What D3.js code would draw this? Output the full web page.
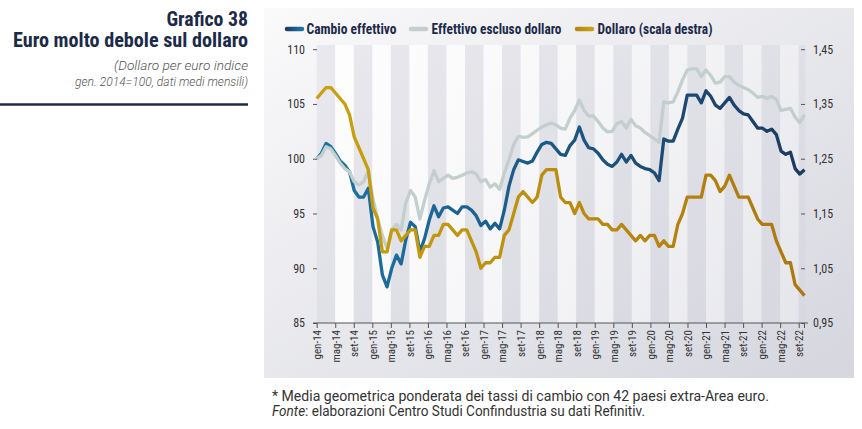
<!DOCTYPE html>
<html>
<head>
<meta charset="utf-8">
<script src="https://cdn.jsdelivr.net/npm/d3@7"></script>
<style>
  body { margin: 0; background: #fff; }
  svg { display: block; }
</style>
</head>
<body>
<div id="chart"></div>
<script>
// monthly data, gen-14 .. set-22
var cambioEffettivo = [100.0,100.5,101.4,101.1,100.5,99.8,99.4,98.8,97.1,96.5,
  96.5,97.3,93.8,92.4,89.4,88.3,90.0,91.2,90.4,92.6,
  94.2,93.8,91.5,92.7,94.4,95.7,94.7,95.5,95.6,95.3,
  95.0,95.6,95.6,95.3,94.8,93.9,94.3,93.6,94.1,93.6,
  95.3,97.5,99.0,99.9,99.75,99.6,99.8,100.6,101.3,101.5,
  101.4,100.9,100.4,100.3,101.2,101.7,102.9,101.7,101.0,100.9,
  100.5,99.9,99.5,99.3,99.7,100.4,99.7,100.3,99.6,99.3,
  99.1,99.0,98.7,98.0,101.8,101.6,101.6,102.7,103.7,105.8,
  105.8,105.8,105.1,106.2,105.7,104.9,104.6,105.1,105.6,104.9,
  104.4,104.1,104.0,103.4,102.8,102.8,102.5,102.7,102.2,100.7,
  100.4,100.6,99.1,98.6,99.0];

var effettivoEsclusoDollaro = [100.0,100.3,101.1,100.9,100.3,99.6,99.1,98.8,97.9,97.6,
  97.9,98.9,96.3,94.5,93.0,91.8,93.5,94.0,93.5,96.0,
  97.1,96.5,94.5,96.2,97.7,98.9,97.9,98.2,98.5,98.2,
  98.3,98.5,98.7,98.8,98.6,97.9,98.1,97.4,97.7,97.2,
  98.7,99.9,101.3,102.05,101.95,102.0,102.3,102.6,102.9,103.1,
  103.25,103.1,102.8,102.7,103.7,104.4,105.35,104.4,103.9,103.9,
  103.4,102.8,102.45,102.5,103.2,103.4,102.8,103.6,103.0,102.8,
  102.4,102.1,101.8,101.5,105.2,105.1,105.2,106.1,107.2,108.1,
  108.2,108.2,107.5,108.1,107.6,106.9,107.0,107.5,107.5,107.0,
  106.7,106.5,106.3,106.0,105.6,105.7,105.5,105.7,105.4,104.4,
  104.5,104.6,103.8,103.3,104.0];

// dollari per euro (scala destra)
var dollaro = [1.36,1.37,1.38,1.38,1.37,1.36,1.35,1.33,1.29,1.27,
  1.25,1.23,1.16,1.14,1.08,1.08,1.12,1.12,1.10,1.11,
  1.12,1.12,1.07,1.09,1.09,1.11,1.11,1.13,1.13,1.12,
  1.11,1.12,1.12,1.10,1.08,1.05,1.06,1.06,1.07,1.07,
  1.11,1.12,1.15,1.18,1.19,1.18,1.17,1.18,1.22,1.23,
  1.23,1.23,1.18,1.17,1.17,1.15,1.17,1.15,1.14,1.14,
  1.14,1.13,1.13,1.12,1.12,1.13,1.12,1.11,1.10,1.11,
  1.10,1.11,1.11,1.09,1.10,1.09,1.09,1.13,1.15,1.18,
  1.18,1.18,1.18,1.22,1.22,1.21,1.19,1.20,1.22,1.20,
  1.18,1.18,1.18,1.16,1.14,1.13,1.13,1.13,1.10,1.08,
  1.06,1.06,1.02,1.01,1.00];

var tickLabels = ["gen-14","mag-14","set-14","gen-15","mag-15","set-15","gen-16","mag-16","set-16",
  "gen-17","mag-17","set-17","gen-18","mag-18","set-18","gen-19","mag-19","set-19",
  "gen-20","mag-20","set-20","gen-21","mag-21","set-21","gen-22","mag-22","set-22"];

var leftTicks = [85, 90, 95, 100, 105, 110];
var rightTicks = [0.95, 1.05, 1.15, 1.25, 1.35, 1.45];

var svgWidth = 862;
var svgHeight = 429;

var condensed = "'Roboto Condensed','Liberation Sans Narrow','DejaVu Sans Condensed','Arial Narrow',sans-serif";
var navy = "#1c2a4a";

var svg = d3.select("#chart")
  .append("svg")
  .attr("width", svgWidth)
  .attr("height", svgHeight);

var defs = svg.append("defs");

// panel gradient
var pg = defs.append("linearGradient").attr("id", "panelGrad")
  .attr("x1", 0).attr("y1", 0).attr("x2", 1).attr("y2", 1);
pg.append("stop").attr("offset", "0%").attr("stop-color", "#fafafb");
pg.append("stop").attr("offset", "100%").attr("stop-color", "#d5d6de");

var wg = defs.append("linearGradient").attr("id", "whiteBand")
  .attr("gradientUnits", "userSpaceOnUse")
  .attr("x1", 316).attr("x2", 806).attr("y1", 0).attr("y2", 0);
wg.append("stop").attr("offset", "0%").attr("stop-color", "#fff").attr("stop-opacity", 0.85);
wg.append("stop").attr("offset", "100%").attr("stop-color", "#fff").attr("stop-opacity", 0.3);

function lineGrad(id, c1, c2, x1, x2) {
  var g = defs.append("linearGradient").attr("id", id)
    .attr("gradientUnits", "userSpaceOnUse")
    .attr("x1", x1).attr("x2", x2).attr("y1", 0).attr("y2", 0);
  g.append("stop").attr("offset", "0%").attr("stop-color", c1);
  g.append("stop").attr("offset", "100%").attr("stop-color", c2);
}
lineGrad("blueGrad", "#1b74a6", "#1c3a60", 316, 806);
lineGrad("goldGrad", "#c9a10e", "#ad770f", 316, 806);
lineGrad("blueLeg", "#1b3a62", "#1f77ad", 285, 303);
lineGrad("goldLeg", "#b5840f", "#c9a318", 575, 593);

svg.append("rect")
  .attr("x", 264).attr("y", 8)
  .attr("width", 590).attr("height", 370)
  .attr("fill", "url(#panelGrad)");

// scales
var x = d3.scaleLinear().domain([0, dollaro.length - 1]).range([316.7, 804.5]);
var xAxisScale = d3.scalePoint().domain(tickLabels).range([316.7, 798.7]);
var yLeft = d3.scaleLinear().domain([85, 110]).range([323, 49.2]);
var yRight = d3.scaleLinear().domain([0.95, 1.45]).range([323, 49.2]);

// alternating bands
var bandEdges = tickLabels.map(function(t) { return xAxisScale(t); });
bandEdges.push(x(dollaro.length - 1) + 1);
var bands = d3.range(bandEdges.length - 1);
svg.append("g").selectAll("rect")
  .data(bands)
  .enter()
  .append("rect")
  .attr("x", function(i) { return bandEdges[i]; })
  .attr("y", 45)
  .attr("width", function(i) { return bandEdges[i + 1] - bandEdges[i]; })
  .attr("height", 323 - 45)
  .attr("fill", function(i) { return i % 2 === 0 ? "#d2d2de" : "url(#whiteBand)"; })
  .attr("fill-opacity", function(i) { return i % 2 === 0 ? 0.38 : 1; });

// axes
var leftAxis = d3.axisLeft(yLeft).tickValues(leftTicks).tickSize(4).tickPadding(8);
var rightAxis = d3.axisRight(yRight).tickValues(rightTicks).tickSize(4).tickPadding(8)
  .tickFormat(function(d) { return d3.format(".2f")(d).replace(".", ","); });
var bottomAxis = d3.axisBottom(xAxisScale).tickSize(5).tickPadding(3);

var gl = svg.append("g").attr("transform", "translate(317,0)").call(leftAxis);
var gr = svg.append("g").attr("transform", "translate(801,0)").call(rightAxis);
var gb = svg.append("g").attr("transform", "translate(0,323)").call(bottomAxis);

[gl, gr, gb].forEach(function(g) {
  g.select(".domain").remove();
  g.selectAll(".tick line").attr("stroke", "#555").attr("stroke-width", 1);
  g.selectAll("text")
    .style("font-family", condensed)
    .style("font-size", "12px")
    .attr("fill", "#333");
});

gb.append("line")
  .attr("x1", 313).attr("x2", 808)
  .attr("y1", 0).attr("y2", 0)
  .attr("stroke", "#555");
gb.append("line")
  .attr("x1", x(dollaro.length - 1)).attr("x2", x(dollaro.length - 1))
  .attr("y1", 0).attr("y2", 5)
  .attr("stroke", "#555");

gb.selectAll(".tick text")
  .attr("transform", "rotate(-90)")
  .attr("text-anchor", "end")
  .attr("x", -7)
  .attr("y", 0)
  .attr("dy", "0.35em")
  .style("font-size", "11px");

// lines
var lineLeft = d3.line()
  .x(function(d, i) { return x(i); })
  .y(function(d) { return yLeft(d); });
var lineRight = d3.line()
  .x(function(d, i) { return x(i); })
  .y(function(d) { return yRight(d); });

svg.append("path")
  .datum(cambioEffettivo)
  .attr("d", lineLeft)
  .attr("fill", "none")
  .attr("stroke", "url(#blueGrad)")
  .attr("stroke-width", 3.3)
  .attr("stroke-linejoin", "round");

svg.append("path")
  .datum(effettivoEsclusoDollaro)
  .attr("d", lineLeft)
  .attr("fill", "none")
  .attr("stroke", "#c3cfcc")
  .attr("stroke-width", 3.3)
  .attr("stroke-linejoin", "round");

svg.append("path")
  .datum(dollaro)
  .attr("d", lineRight)
  .attr("fill", "none")
  .attr("stroke", "url(#goldGrad)")
  .attr("stroke-width", 3.3)
  .attr("stroke-linejoin", "round");

// legend
var legend = [
  { name: "Cambio effettivo", color: "url(#blueLeg)", sx: 285, tx: 306.5, tw: 90 },
  { name: "Effettivo escluso dollaro", color: "#c3cfcc", sx: 409, tx: 431.5, tw: 130 },
  { name: "Dollaro (scala destra)", color: "url(#goldLeg)", sx: 575, tx: 597.5, tw: 115 }
];
var lg = svg.append("g");
legend.forEach(function(l) {
  lg.append("line")
    .attr("x1", l.sx + 2).attr("x2", l.sx + 17)
    .attr("y1", 29).attr("y2", 29)
    .attr("stroke", l.color)
    .attr("stroke-width", 4.5)
    .attr("stroke-linecap", "round");
  lg.append("text")
    .attr("x", l.tx).attr("y", 34)
    .attr("textLength", l.tw)
    .attr("lengthAdjust", "spacingAndGlyphs")
    .style("font-family", condensed)
    .style("font-size", "14px")
    .style("font-weight", "bold")
    .attr("fill", navy)
    .text(l.name);
});

// title block
svg.append("text")
  .attr("x", 248).attr("y", 25.5)
  .attr("text-anchor", "end")
  .attr("textLength", 81.5)
  .attr("lengthAdjust", "spacingAndGlyphs")
  .style("font-family", condensed)
  .style("font-size", "20px")
  .style("font-weight", "bold")
  .attr("fill", navy)
  .text("Grafico 38");
svg.append("text")
  .attr("x", 248).attr("y", 46.5)
  .attr("text-anchor", "end")
  .attr("textLength", 235)
  .attr("lengthAdjust", "spacingAndGlyphs")
  .style("font-family", condensed)
  .style("font-size", "20px")
  .style("font-weight", "bold")
  .attr("fill", navy)
  .text("Euro molto debole sul dollaro");

svg.append("text")
  .attr("x", 248).attr("y", 70)
  .attr("text-anchor", "end")
  .attr("textLength", 134)
  .attr("lengthAdjust", "spacingAndGlyphs")
  .style("font-family", "Roboto, sans-serif")
  .style("font-size", "13px")
  .style("font-style", "italic")
  .style("font-weight", 300)
  .attr("fill", "#555")
  .text("(Dollaro per euro indice");
svg.append("text")
  .attr("x", 248).attr("y", 86)
  .attr("text-anchor", "end")
  .attr("textLength", 173)
  .attr("lengthAdjust", "spacingAndGlyphs")
  .style("font-family", "Roboto, sans-serif")
  .style("font-size", "13px")
  .style("font-style", "italic")
  .style("font-weight", 300)
  .attr("fill", "#555")
  .text("gen. 2014=100, dati medi mensili)");

svg.append("line")
  .attr("x1", 0).attr("x2", 248)
  .attr("y1", 104.5).attr("y2", 104.5)
  .attr("stroke", navy)
  .attr("stroke-width", 2.5);

// notes
svg.append("text")
  .attr("x", 272).attr("y", 401)
  .attr("textLength", 497)
  .attr("lengthAdjust", "spacingAndGlyphs")
  .style("font-family", "Roboto, sans-serif")
  .style("font-size", "14px")
  .attr("fill", "#333")
  .text("* Media geometrica ponderata dei tassi di cambio con 42 paesi extra-Area euro.");
var fonte = svg.append("text")
  .attr("x", 272).attr("y", 416)
  .attr("textLength", 373)
  .attr("lengthAdjust", "spacingAndGlyphs")
  .style("font-family", "Roboto, sans-serif")
  .style("font-size", "14px")
  .attr("fill", "#333");
fonte.append("tspan").style("font-style", "italic").text("Fonte");
fonte.append("tspan").text(": elaborazioni Centro Studi Confindustria su dati Refinitiv.");
</script>
</body>
</html>
